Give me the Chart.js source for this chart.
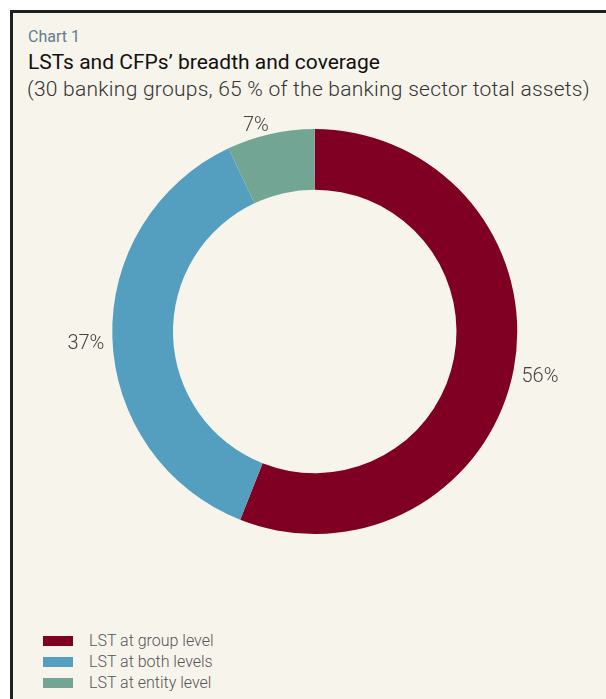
<!DOCTYPE html>
<html>
<head>
<meta charset="utf-8">
<script src="https://cdn.jsdelivr.net/npm/chart.js@4"></script>
<style>
  html, body { margin: 0; padding: 0; background: #ffffff; }
  body { width: 606px; height: 699px; position: relative; overflow: hidden; font-family: "Roboto", sans-serif; }
  .frame {
    position: absolute; left: 10px; top: 10px; width: 610px; height: 700px;
    background: #f7f4ec; border-left: 3px solid #1f1f1f; border-top: 3px solid #1f1f1f;
    box-sizing: border-box;
  }
  .kicker { position: absolute; left: 28px; top: 27px; font-size: 16px; color: #637b8c; }
  .title { position: absolute; left: 28px; top: 50px; font-size: 21px; color: #111; }
  .subtitle { position: absolute; left: 27px; top: 77px; font-size: 21px; color: #333; font-weight: 300; letter-spacing: 0.25px; }
  #chartWrap { position: absolute; left: 12px; top: 100px; width: 594px; height: 500px; }
  #legend { position: absolute; left: 43px; top: 630px; }
  .legend-row { height: 21px; display: flex; align-items: center; font-size: 16px; color: #555; font-weight: 300; }
  .legend-box { width: 30px; height: 10px; margin-right: 16px; }
</style>
</head>
<body>
<div class="frame"></div>
<div class="kicker">Chart 1</div>
<div class="title">LSTs and CFPs’ breadth and coverage</div>
<div class="subtitle">(30 banking groups, 65 % of the banking sector total assets)</div>
<div id="chartWrap"><canvas id="coverageChart" width="594" height="500"></canvas></div>
<div id="legend"></div>

<script>
var categories = ["LST at group level", "LST at both levels", "LST at entity level"];
var shares = [56, 37, 7];
var sliceColors = ["#7f0023", "#549fc0", "#72a593"];

// percent labels just outside the ring, at each slice's mid angle
var outsideLabels = {
  id: "outsideLabels",
  afterDatasetsDraw: function (chart) {
    var ctx = chart.ctx;
    var meta = chart.getDatasetMeta(0);
    ctx.save();
    ctx.font = "300 20px Roboto";
    ctx.fillStyle = "#444444";
    ctx.textBaseline = "middle";
    meta.data.forEach(function (arc, i) {
      var p = arc.getProps(["x", "y", "startAngle", "endAngle", "outerRadius"], true);
      var mid = (p.startAngle + p.endAngle) / 2;
      var r = p.outerRadius + 8;
      var dx = Math.cos(mid);
      var dy = Math.sin(mid);
      if (dx > 0.1) ctx.textAlign = "left";
      else if (dx < -0.1) ctx.textAlign = "right";
      else ctx.textAlign = "center";
      // side labels sit a little lower than the mid-angle point
      var shift = Math.abs(dy) < 0.5 ? 6 : 0;
      ctx.fillText(shares[i] + "%", p.x + dx * r, p.y + dy * r + shift);
    });
    ctx.restore();
  },
};

var ctx = document.getElementById("coverageChart").getContext("2d");
var coverageChart = new Chart(ctx, {
  type: "doughnut",
  data: {
    labels: categories,
    datasets: [
      {
        data: shares,
        backgroundColor: sliceColors,
        borderWidth: 0,
      },
    ],
  },
  options: {
    responsive: false,
    animation: false,
    cutout: "70%",
    layout: {
      padding: { left: 100, right: 88.5, top: 29, bottom: 66 },
    },
    plugins: {
      legend: { display: false },
      tooltip: { enabled: false },
    },
  },
  plugins: [outsideLabels],
});

// legend rows under the chart
var legendEl = document.getElementById("legend");
categories.forEach(function (name, i) {
  var row = document.createElement("div");
  row.className = "legend-row";
  row.innerHTML =
    '<span class="legend-box" style="background:' + sliceColors[i] + '"></span>' + name;
  legendEl.appendChild(row);
});
</script>
</body>
</html>
